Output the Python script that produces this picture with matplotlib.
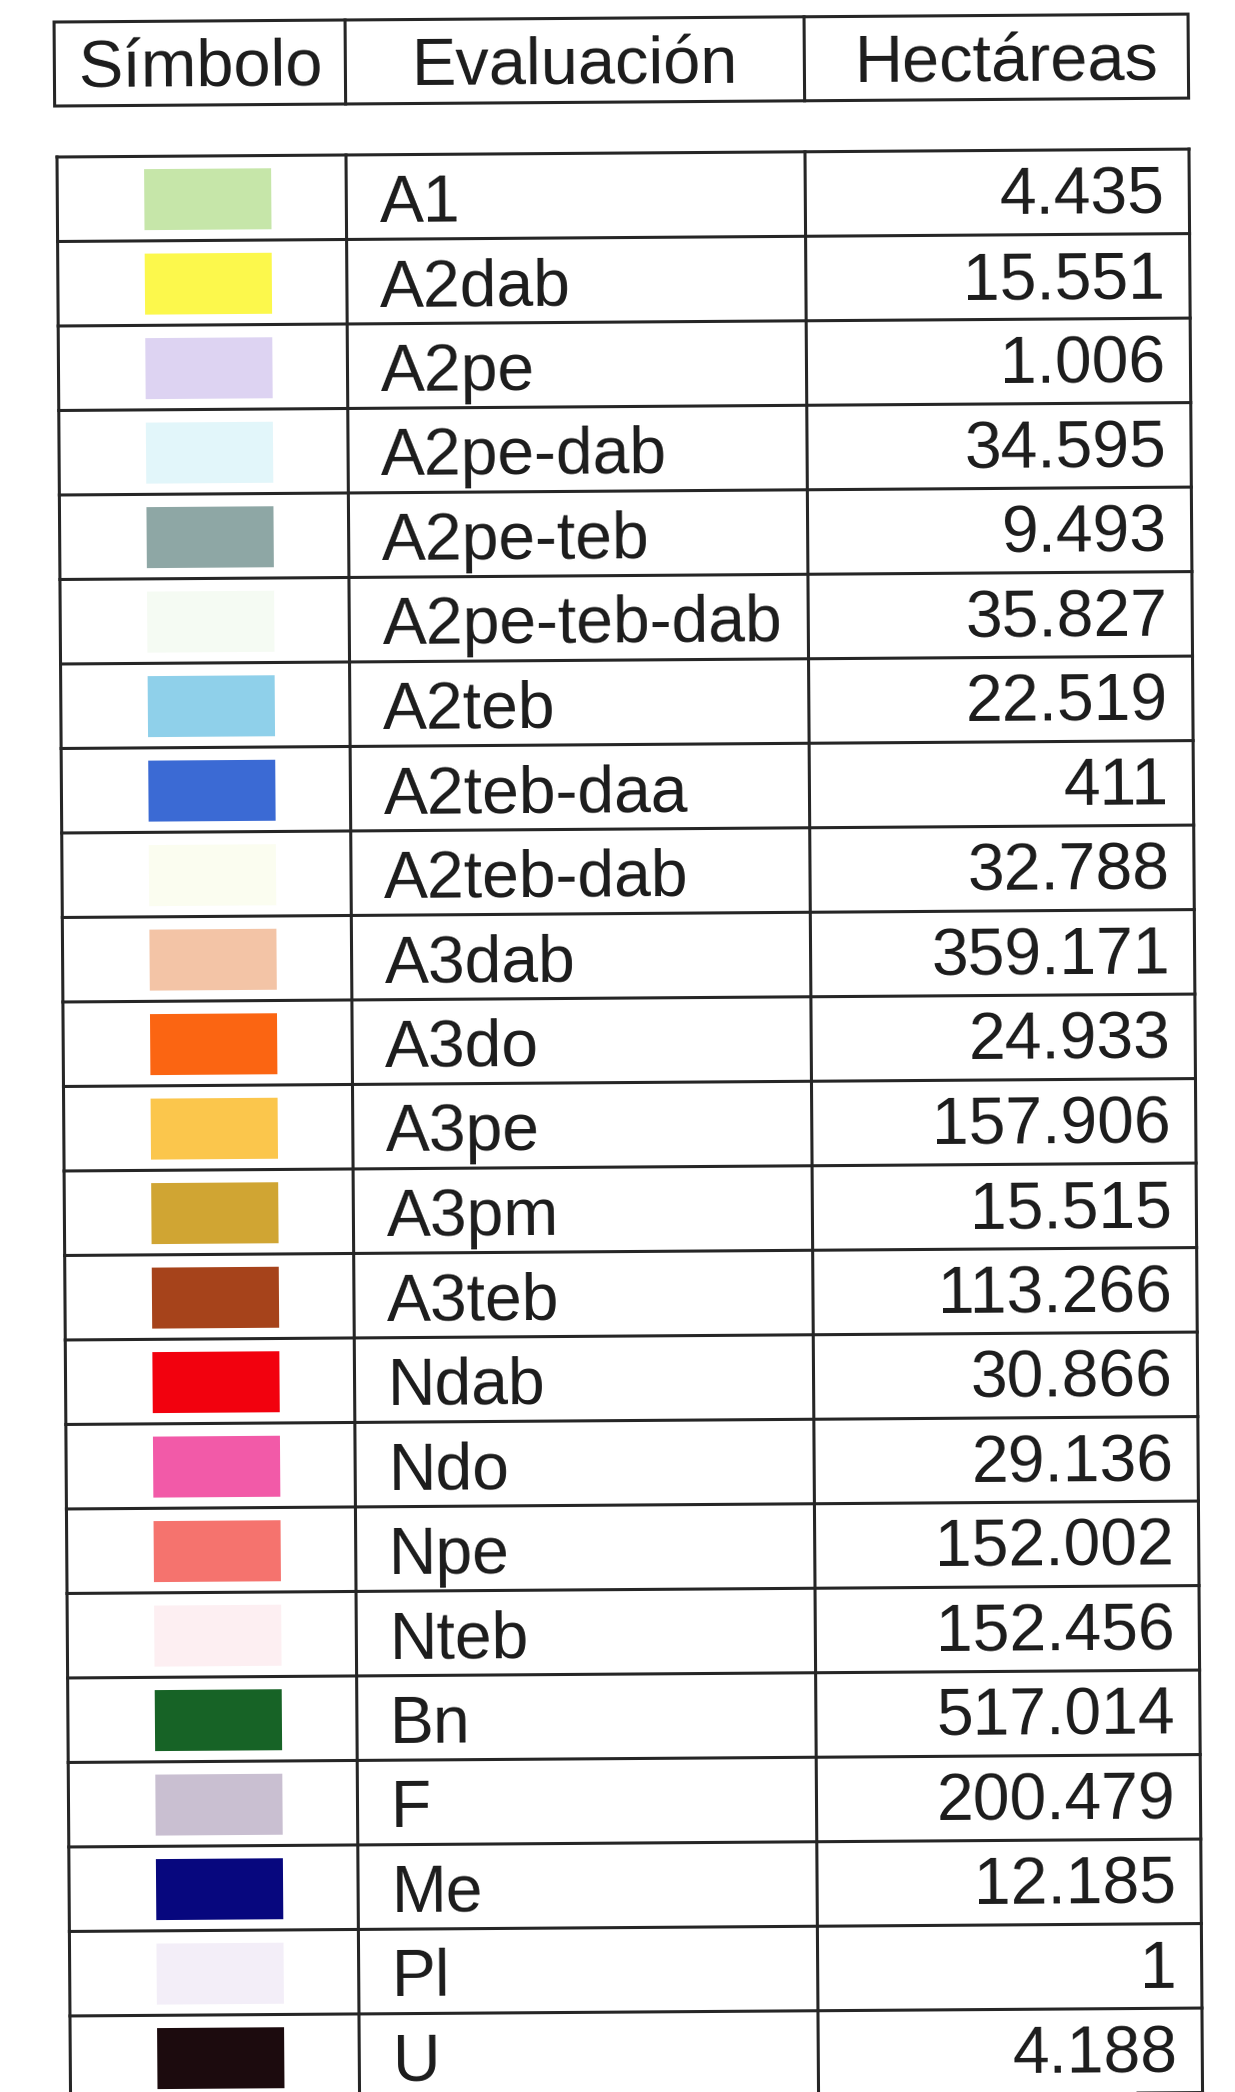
import matplotlib
matplotlib.use("Agg")
import matplotlib.pyplot as plt
from matplotlib.patches import Rectangle
from matplotlib.transforms import Affine2D

# Table content
headers = ["Símbolo", "Evaluación", "Hectáreas"]
evaluacion = ["A1", "A2dab", "A2pe", "A2pe-dab", "A2pe-teb", "A2pe-teb-dab",
              "A2teb", "A2teb-daa", "A2teb-dab", "A3dab", "A3do", "A3pe",
              "A3pm", "A3teb", "Ndab", "Ndo", "Npe", "Nteb", "Bn", "F",
              "Me", "Pl", "U"]
hectareas = [4435, 15551, 1006, 34595, 9493, 35827, 22519, 411, 32788,
             359171, 24933, 157906, 15515, 113266, 30866, 29136, 152002,
             152456, 517014, 200479, 12185, 1, 4188]
colores = ["#c6e6a9", "#fcf84c", "#ddd3f2", "#e2f6fa", "#8ea7a5", "#f5fbf3",
           "#8fd0ea", "#3b6ad4", "#fbfdf0", "#f3c4a6", "#fb6512", "#fbc64c",
           "#d0a533", "#a6431b", "#f2010e", "#f25aa8", "#f5736e", "#fdeff2",
           "#176326", "#c9bfd1", "#07077e", "#f3eef8", "#1c0b0e"]

W, H = 1235, 2092
fig = plt.figure(figsize=(W / 100, H / 100), dpi=100)
ax = fig.add_axes([0, 0, 1, 1])
ax.set_xlim(0, W)
ax.set_ylim(H, 0)
ax.axis("off")

# the scan is turned a little, so everything goes through a small rotation
tr = Affine2D().rotate_deg_around(57, 157, -0.4) + ax.transData
rot_txt = 0.4

font = "Liberation Sans"
line_col = "#262626"
txt_col = "#1b1b1b"
lw = 2.2


def baseline(center, fs):
    # put the cap height centred on the given y (pixel coords, y down)
    return center + 0.716 * fs * 100 / 72 / 2


# header box
hx = [55, 346, 805, 1189]
h_top, h_bot = 22, 106
ax.add_patch(Rectangle((hx[0], h_top), hx[3] - hx[0], h_bot - h_top,
                       fill=False, ec=line_col, lw=lw, transform=tr))
for x in hx[1:3]:
    ax.plot([x, x], [h_top, h_bot], color=line_col, lw=lw, transform=tr)
fs_head = 48
for i, lab in enumerate(headers):
    cx = (hx[i] + hx[i + 1]) / 2
    if i == 2:
        cx += 10
    ax.text(cx, baseline((h_top + h_bot) / 2, fs_head), lab, ha="center",
            va="baseline", fontsize=fs_head, family=font, color=txt_col,
            rotation=rot_txt, rotation_mode="anchor", transform=tr)

# body
bx = [57, 346, 805, 1189]
b_top = 157
row_h = 84.5
n = len(evaluacion)
b_bot = b_top + n * row_h
for k in range(n + 1):
    y = b_top + k * row_h
    ax.plot([bx[0], bx[3]], [y, y], color=line_col, lw=lw, transform=tr)
for x in bx:
    ax.plot([x, x], [b_top, b_bot], color=line_col, lw=lw, transform=tr)

fs_name = 47.5
fs_num = 47.5
sw_w, sw_h = 127, 61
for k, (name, val, col) in enumerate(zip(evaluacion, hectareas, colores)):
    yc = b_top + (k + 0.5) * row_h
    ax.add_patch(Rectangle((144, yc - sw_h / 2 + 1), sw_w, sw_h, color=col,
                           lw=0, transform=tr))
    ax.text(bx[1] + 33, baseline(yc + 1, fs_name), name, ha="left",
            va="baseline", fontsize=fs_name, family=font, color=txt_col,
            rotation=rot_txt, rotation_mode="anchor", transform=tr)
    txt = f"{val:,}".replace(",", ".")
    ax.text(bx[3] - 25, baseline(yc - 2, fs_num), txt, ha="right",
            va="baseline", fontsize=fs_num, family=font, color=txt_col,
            rotation=rot_txt, rotation_mode="anchor", transform=tr)

fig.savefig("out.png", dpi=100, facecolor="white")
